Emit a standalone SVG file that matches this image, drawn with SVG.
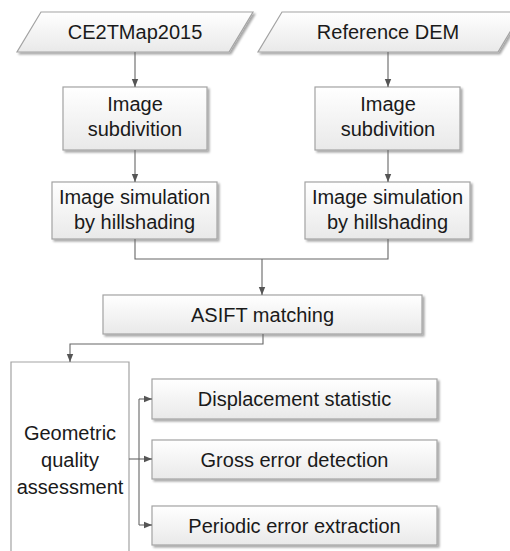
<svg xmlns="http://www.w3.org/2000/svg" width="510" height="551" viewBox="0 0 510 551">
  <defs>
    <linearGradient id="boxFill" x1="0" y1="0" x2="0" y2="1">
      <stop offset="0" stop-color="#ffffff"/>
      <stop offset="1" stop-color="#e9e9e9"/>
    </linearGradient>
    <filter id="shadow" x="-10%" y="-10%" width="130%" height="140%">
      <feGaussianBlur in="SourceAlpha" stdDeviation="1"/>
      <feOffset dx="1.5" dy="1.5" result="b"/>
      <feComponentTransfer><feFuncA type="linear" slope="0.35"/></feComponentTransfer>
      <feMerge><feMergeNode/><feMergeNode in="SourceGraphic"/></feMerge>
    </filter>
    <marker id="arrow" viewBox="0 0 10 10" refX="10" refY="5" markerWidth="8" markerHeight="8" markerUnits="userSpaceOnUse" orient="auto">
      <path d="M0,1 L10,5 L0,9 Z" fill="#555"/>
    </marker>
  </defs>
  <style>
    .shape { fill: url(#boxFill); stroke: #a3a3a3; stroke-width: 1.2; filter: url(#shadow); }
    .open { fill: #ffffff; stroke: #a3a3a3; stroke-width: 1.2; }
    .label { font-family: "Liberation Sans", Arial, sans-serif; font-size: 20px; fill: #1a1a1a; text-anchor: middle; }
    .wire { fill: none; stroke: #666; stroke-width: 1.1; }
    .wire.arrowed { marker-end: url(#arrow); }
  </style>

  <!-- inputs -->
  <g id="ce2tmap">
    <polygon class="shape" points="41,12 253,12 229,52 17,52"/>
    <text class="label" x="135" y="39">CE2TMap2015</text>
  </g>
  <g id="reference-dem">
    <polygon class="shape" points="282,12 522,12 498,52 258,52"/>
    <text class="label" x="388" y="39">Reference DEM</text>
  </g>

  <!-- left branch -->
  <g id="subdiv-left">
    <rect class="shape" x="63" y="87" width="144" height="63"/>
    <text class="label" x="135" y="111">Image</text>
    <text class="label" x="135" y="136">subdivition</text>
  </g>
  <g id="hillshade-left">
    <rect class="shape" x="52" y="182" width="165" height="57"/>
    <text class="label" x="134.5" y="204">Image simulation</text>
    <text class="label" x="134.5" y="229">by hillshading</text>
  </g>

  <!-- right branch -->
  <g id="subdiv-right">
    <rect class="shape" x="315" y="87" width="145" height="63"/>
    <text class="label" x="388" y="111">Image</text>
    <text class="label" x="388" y="136">subdivition</text>
  </g>
  <g id="hillshade-right">
    <rect class="shape" x="305" y="182" width="165" height="57"/>
    <text class="label" x="387.5" y="204">Image simulation</text>
    <text class="label" x="387.5" y="229">by hillshading</text>
  </g>

  <!-- matching -->
  <g id="asift">
    <rect class="shape" x="103" y="295" width="319" height="39"/>
    <text class="label" x="262.5" y="322">ASIFT matching</text>
  </g>

  <!-- assessment -->
  <g id="assessment">
    <path class="open" d="M11,562 L11,362 L129,362 L129,562"/>
    <text class="label" x="70" y="440">Geometric</text>
    <text class="label" x="70" y="467">quality</text>
    <text class="label" x="70" y="494">assessment</text>
  </g>
  <g id="displacement">
    <rect class="shape" x="152" y="379" width="285" height="40"/>
    <text class="label" x="294.5" y="406">Displacement statistic</text>
  </g>
  <g id="gross-error">
    <rect class="shape" x="152" y="440" width="285" height="39"/>
    <text class="label" x="294.5" y="467">Gross error detection</text>
  </g>
  <g id="periodic-error">
    <rect class="shape" x="152" y="506" width="285" height="39"/>
    <text class="label" x="294.5" y="533">Periodic error extraction</text>
  </g>

  <!-- connectors -->
  <g id="connectors">
    <path class="wire arrowed" d="M135,52 L135,87"/>
    <path class="wire arrowed" d="M388,52 L388,87"/>
    <path class="wire arrowed" d="M135,150 L135,182"/>
    <path class="wire arrowed" d="M388,150 L388,182"/>
    <path class="wire" d="M135,239 L135,259 L388,259 L388,239"/>
    <path class="wire arrowed" d="M262,259 L262,295"/>
    <path class="wire arrowed" d="M263,334 L263,344 L70,344 L70,362"/>
    <path class="wire" d="M129,459 L139,459"/>
    <path class="wire arrowed" d="M139,399 L152,399"/>
    <path class="wire" d="M139,399 L139,525"/>
    <path class="wire arrowed" d="M139,459 L152,459"/>
    <path class="wire arrowed" d="M139,525 L152,525"/>
  </g>
</svg>
